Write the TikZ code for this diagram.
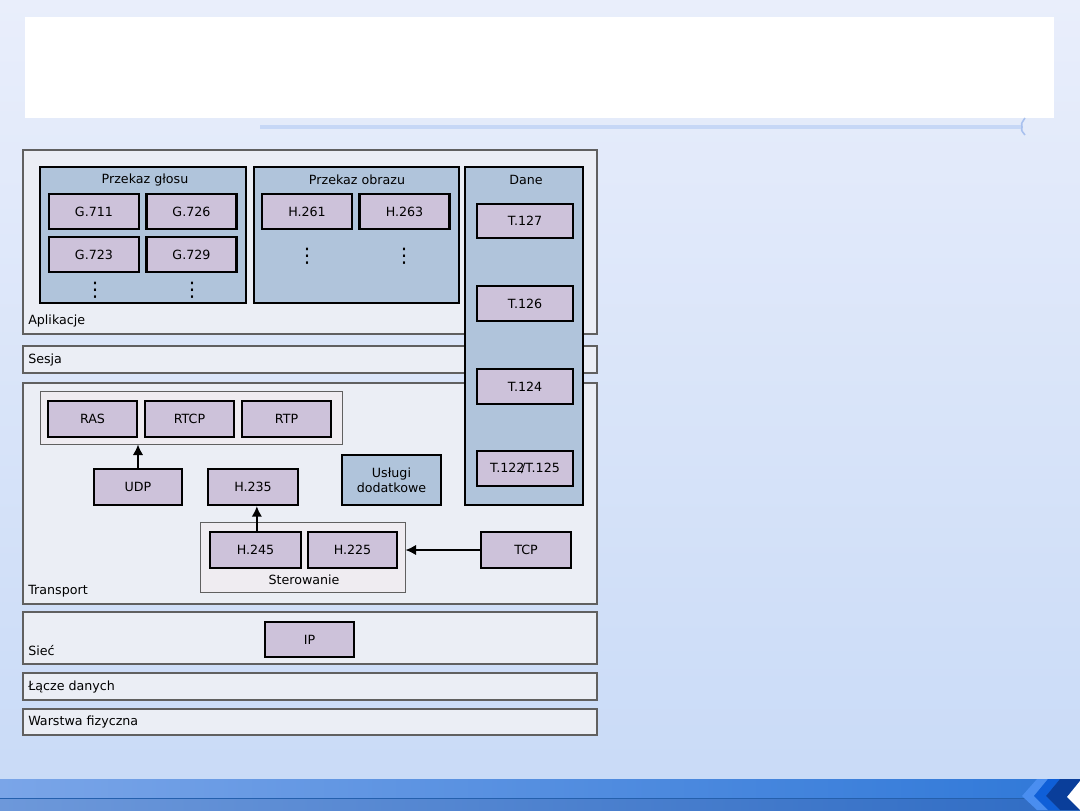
\documentclass[tikz,border=0pt]{standalone}
\usepackage{fontspec}
\setmainfont{DejaVu Sans}
\usetikzlibrary{arrows.meta}
\definecolor{bgtop}{HTML}{E9EEFB}
\definecolor{bgbot}{HTML}{C8DAF7}
\definecolor{layerfill}{HTML}{EBEEF5}
\definecolor{layerdraw}{HTML}{606060}
\definecolor{bluef}{HTML}{B0C4DB}
\definecolor{purp}{HTML}{CDC2DA}
\definecolor{grpfill}{HTML}{EFECF1}
\definecolor{lineblue}{HTML}{C6D7F6}
\definecolor{bracketblue}{HTML}{A9C1EE}
\definecolor{barA}{HTML}{7AA5E8}
\definecolor{barB}{HTML}{2F78D8}
\definecolor{barC}{HTML}{6D98DA}
\definecolor{barD}{HTML}{2F6CC4}
\definecolor{chevA}{HTML}{4A8EF0}
\definecolor{chevB}{HTML}{0F5FD8}
\definecolor{chevC}{HTML}{0A3E9A}
\tikzset{
  wh/.style 2 args={minimum width=#1*0.75pt, minimum height=#2*0.75pt},
  layer/.style={draw=layerdraw, line width=0.8pt, fill=layerfill, inner sep=0pt},
  grp/.style={draw=black, line width=1.6pt, fill=bluef, inner sep=0pt},
  proto/.style={draw=black, line width=1.6pt, fill=purp, inner sep=0pt, align=center},
  sub/.style={draw=layerdraw, line width=0.6pt, fill=grpfill, inner sep=0pt},
  lbl/.style={inner sep=0pt},
  dots/.style={inner sep=0pt, font=\fontsize{15}{15}\selectfont},
  arr/.style={line width=1.6pt, -{Latex[length=8pt,width=8pt]}},
}
\begin{document}
\begin{tikzpicture}[x=0.75pt,y=-0.75pt, font=\fontsize{9.5}{11}\selectfont]
\useasboundingbox (0,0) rectangle (1080,810);
% background
\shade[top color=bgtop, bottom color=bgbot] (0,0) rectangle (1080,810);
\fill[white] (25,17) rectangle (1054,118);
\draw[lineblue, line width=3pt] (260,127) -- (1022,127);
\draw[bracketblue, line width=1.2pt] (1025,118) .. controls (1021,124) .. (1022,127) .. controls (1021,130) .. (1025,135);
% bottom bar
\shade[left color=barA, right color=barB] (0,779) rectangle (1080,798);
\shade[left color=barC, right color=barD] (0,798) rectangle (1080,810);
\draw[barB!80!black, line width=0.6pt] (0,798) -- (1030,798);
\fill[chevA] (1022,796) -- (1037,779) -- (1048,779) -- (1034,796) -- (1048,810) -- (1037,810) -- cycle;
\fill[chevB] (1034,796) -- (1048,779) -- (1060,779) -- (1046,796) -- (1060,810) -- (1048,810) -- cycle;
\fill[chevC] (1046,796) -- (1060,779) -- (1080,779) -- (1080,810) -- (1060,810) -- cycle;
\fill[white] (1080,781) -- (1067,797) -- (1080,810) -- cycle;

% layers
\node[layer, wh={574}{184}] (apl) at (310,242) {};
\node[layer, wh={574}{27}] (ses) at (310,359.5) {};
\node[layer, wh={574}{221}] (tra) at (310,493.5) {};
\node[layer, wh={574}{52}] (sie) at (310,638) {};
\node[layer, wh={574}{27}] (lac) at (310,686.5) {};
\node[layer, wh={574}{26}] (war) at (310,722) {};
\node[lbl, anchor=west] (aplL) at (28,321) {Aplikacje};
\node[lbl, anchor=west] (sesL) at (28,360) {Sesja};
\node[lbl, anchor=west] (traL) at (28,591) {Transport};
\node[lbl, anchor=west] (sieL) at (28,651) {Sieć};
\node[lbl, anchor=west] (lacL) at (28,687) {Łącze danych};
\node[lbl, anchor=west] (warL) at (28,722) {Warstwa fizyczna};

% application groups
\node[grp, wh={206}{136}] (glos) at (143,235) {};
\node[grp, wh={205}{136}] (obr) at (356.5,235) {};
\node[grp, wh={118}{338}] (dane) at (524,336) {};
\node[lbl] (glosL) at (145,180) {Przekaz głosu};
\node[lbl] (obrL) at (357,180) {Przekaz obrazu};
\node[lbl] (daneL) at (526,180) {Dane};

\node[proto, wh={90}{35}] (G711) at (94,211.5) {G.711};
\node[proto, wh={90}{35}] (G726) at (191.5,211.5) {G.726};
\node[proto, wh={90}{35}] (G723) at (94,254.5) {G.723};
\node[proto, wh={90}{35}] (G729) at (191.5,254.5) {G.729};
\node[dots] (d1) at (95,290) {⋮};
\node[dots] (d2) at (192,290) {⋮};
\node[proto, wh={90}{35}] (H261) at (307,211.5) {H.261};
\node[proto, wh={90}{35}] (H263) at (404.5,211.5) {H.263};
\node[dots] (d3) at (307,256) {⋮};
\node[dots] (d4) at (404,256) {⋮};
\node[proto, wh={96}{34}] (T127) at (525,221) {T.127};
\node[proto, wh={96}{35}] (T126) at (525,303.5) {T.126};
\node[proto, wh={96}{35}] (T124) at (525,386.5) {T.124};
\node[proto, wh={96}{35}] (T122) at (525,468.5) {T.122\kern-2.5pt/T.125};

% transport
\node[sub, wh={302}{53}] (rtpgrp) at (191,417.5) {};
\node[proto, wh={89}{36}] (RAS) at (92.5,419) {RAS};
\node[proto, wh={89}{36}] (RTCP) at (189.5,419) {RTCP};
\node[proto, wh={89}{36}] (RTP) at (286.5,419) {RTP};
\node[proto, wh={88}{36}] (UDP) at (138,487) {UDP};
\node[proto, wh={90}{36}] (H235) at (253,487) {H.235};
\node[grp, wh={99}{50}, align=center] (usl) at (391.5,480) {Usługi\\dodatkowe};
\node[sub, wh={205}{70}] (ster) at (302.5,557) {};
\node[lbl] (sterL) at (304,580) {Sterowanie};
\node[proto, wh={91}{36}] (H245) at (255.5,550) {H.245};
\node[proto, wh={89}{36}] (H225) at (352.5,550) {H.225};
\node[proto, wh={90}{36}] (TCP) at (526,550) {TCP};

% network
\node[proto, wh={89}{35}] (IP) at (309.5,639.5) {IP};

% arrows
\draw[arr] (UDP.north) -- (UDP.north |- rtpgrp.south);
\draw[arr] ([xshift=1pt]H245.north) -- ([xshift=1pt]H245.north |- H235.south);
\draw[arr] (TCP.west) -- (ster.east |- TCP.west);
\end{tikzpicture}
\end{document}
